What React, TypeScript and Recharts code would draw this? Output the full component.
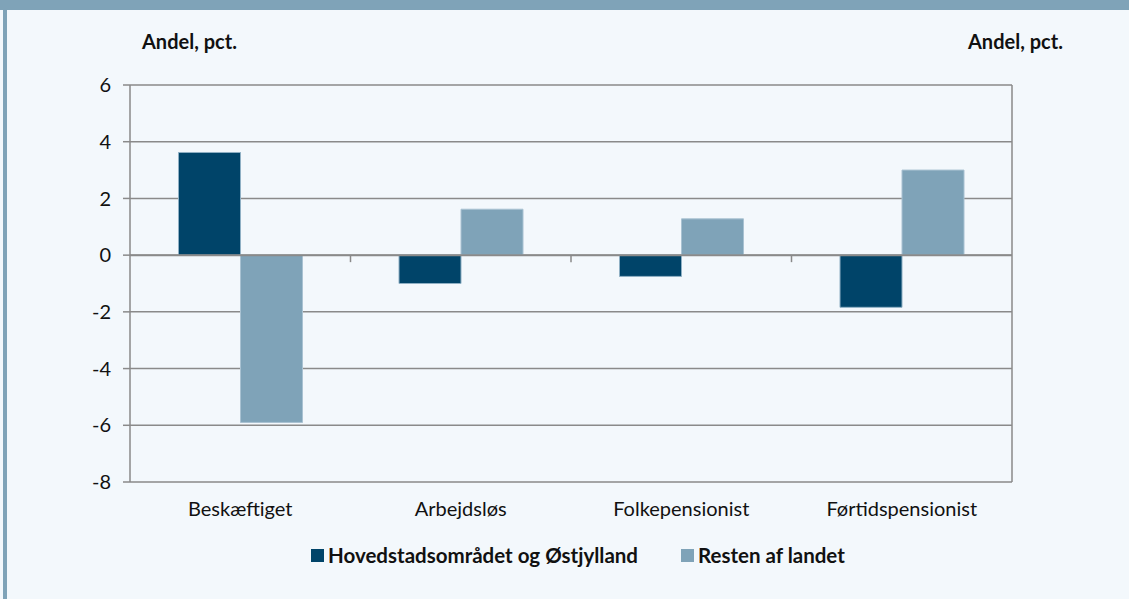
import React from 'react';
import { BarChart, Bar, XAxis, YAxis, CartesianGrid, ReferenceLine } from 'recharts';

const categories = ['Beskæftiget', 'Arbejdsløs', 'Folkepensionist', 'Førtidspensionist'];
const hovedstadOgOestjylland = [3.62, -1.0, -0.75, -1.84];
const restenAfLandet = [-5.9, 1.62, 1.28, 3.0];
const yTicks = [-8, -6, -4, -2, 0, 2, 4, 6];

const seriesNames = ['Hovedstadsområdet og Østjylland', 'Resten af landet'];
const DARK = '#004469';
const LIGHT = '#7fa3b8';
const GRID = '#8a8a8a';
const BG = '#f3f8fc';
const FONT = 'Lato, "Noto Sans", sans-serif';

const data = categories.map((name, i) => ({
  name,
  hoved: hovedstadOgOestjylland[i],
  rest: restenAfLandet[i],
}));

// zero line plus the small category divider ticks hanging under it
const ZeroLine = (props: any) => {
  const { x1, x2, y1 } = props;
  const n = categories.length;
  const step = (x2 - x1) / n;
  const ticks = [];
  for (let i = 1; i < n; i++) {
    const x = x1 + step * i;
    ticks.push(<line key={i} x1={x} x2={x} y1={y1} y2={y1 + 7} stroke={GRID} strokeWidth={1.5} />);
  }
  return (
    <g>
      <line x1={x1} x2={x2} y1={y1} y2={y1} stroke={GRID} strokeWidth={2} />
      {ticks}
    </g>
  );
};

const LegendItem: React.FC<{ color: string; label: string }> = ({ color, label }) => (
  <span style={{ display: 'inline-flex', alignItems: 'center', gap: 4 }}>
    <span style={{ width: 13, height: 13, background: color, display: 'inline-block' }} />
    <span>{label}</span>
  </span>
);

export default function App() {
  return (
    <div
      style={{
        position: 'absolute',
        left: 0,
        top: 0,
        width: 1129,
        height: 599,
        background: BG,
        overflow: 'hidden',
        fontFamily: FONT,
      }}
    >
      <div style={{ position: 'absolute', left: 0, top: 0, width: 1129, height: 10, background: LIGHT }} />
      <div style={{ position: 'absolute', left: 3, top: 0, width: 4, height: 599, background: LIGHT }} />

      <div style={{ position: 'absolute', left: 142, top: 29, fontSize: 20, fontWeight: 700, color: '#111' }}>
        Andel, pct.
      </div>
      <div style={{ position: 'absolute', left: 968, top: 29, fontSize: 20, fontWeight: 700, color: '#111' }}>
        Andel, pct.
      </div>

      <div style={{ position: 'absolute', left: 0, top: 0 }}>
        <BarChart
          width={1129}
          height={599}
          data={data}
          margin={{ top: 85, right: 0, left: 0, bottom: 87 }}
          barCategoryGap="22%"
          barGap={0}
        >
          <CartesianGrid vertical={false} stroke={GRID} strokeWidth={1.5} yAxisId="left" />
          <XAxis
            dataKey="name"
            axisLine={false}
            tickLine={false}
            tickSize={0}
            tickMargin={20}
            height={30}
            interval={0}
            tick={{ fill: '#111', fontSize: 20, fontFamily: FONT }}
          />
          <YAxis
            yAxisId="left"
            orientation="left"
            width={130}
            domain={[-8, 6]}
            ticks={yTicks}
            interval={0}
            axisLine={{ stroke: GRID, strokeWidth: 1.5 }}
            tickLine={{ stroke: GRID, strokeWidth: 1.5 }}
            tickSize={7}
            tickMargin={12}
            tick={{ fill: '#111', fontSize: 20, fontFamily: FONT }}
          />
          <YAxis
            yAxisId="right"
            orientation="right"
            width={117}
            domain={[-8, 6]}
            ticks={yTicks}
            interval={0}
            axisLine={{ stroke: GRID, strokeWidth: 1.5 }}
            tickLine={{ stroke: GRID, strokeWidth: 1.5 }}
            tickSize={7}
            tickMargin={12}
            tick={{ fill: '#111', fontSize: 20, fontFamily: FONT }}
          />
          <Bar
            yAxisId="left"
            dataKey="hoved"
            name={seriesNames[0]}
            fill={DARK}
            stroke="#8fb0c4"
            strokeWidth={1}
            isAnimationActive={false}
          />
          <Bar
            yAxisId="left"
            dataKey="rest"
            name={seriesNames[1]}
            fill={LIGHT}
            stroke="#a9c2d2"
            strokeWidth={1}
            isAnimationActive={false}
          />
          <ReferenceLine yAxisId="left" y={0} shape={ZeroLine} />
        </BarChart>
      </div>

      <div
        style={{
          position: 'absolute',
          left: 311,
          top: 543,
          display: 'flex',
          gap: 43,
          fontSize: 20.5,
          fontWeight: 700,
          color: '#111',
        }}
      >
        <LegendItem color={DARK} label={seriesNames[0]} />
        <LegendItem color={LIGHT} label={seriesNames[1]} />
      </div>
    </div>
  );
}
